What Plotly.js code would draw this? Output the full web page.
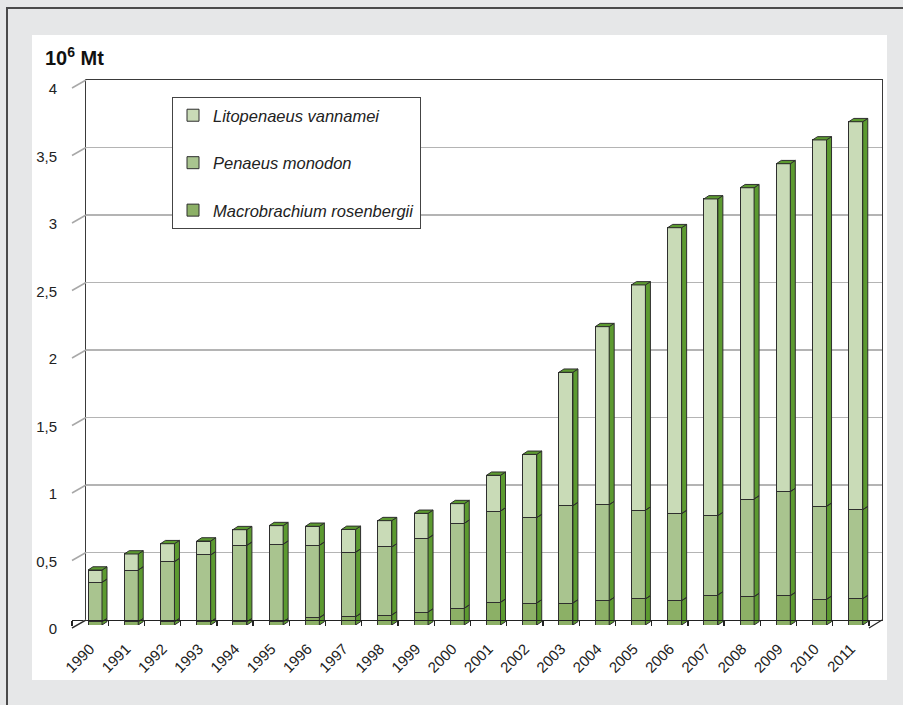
<!DOCTYPE html>
<html>
<head>
<meta charset="utf-8">
<script src="https://cdn.plot.ly/plotly-3.0.1.min.js"></script>
<style>
  html, body { margin:0; padding:0; width:903px; height:705px; overflow:hidden; background:#e6e7e8; }
  #lineTop { position:absolute; left:6px; top:7px; width:897px; height:1.5px; background:#4a4a4a; }
  #lineLeft { position:absolute; left:6px; top:7px; width:1.5px; height:698px; background:#4a4a4a; }
  #panel { position:absolute; left:32px; top:35px; width:855px; height:645px; background:#ffffff; }
  #chart { position:absolute; left:0; top:0; width:903px; height:705px; }
</style>
</head>
<body>
<div id="lineTop"></div>
<div id="lineLeft"></div>
<div id="panel"></div>
<div id="chart"></div>
<script>
// ---- data (10^6 Mt) ----
const years = ['1990','1991','1992','1993','1994','1995','1996','1997','1998','1999','2000',
               '2001','2002','2003','2004','2005','2006','2007','2008','2009','2010','2011'];
const macrobrachium = [0.024,0.024,0.024,0.024,0.024,0.024,0.054,0.061,0.074,0.096,0.124,
                       0.168,0.163,0.163,0.180,0.193,0.180,0.222,0.210,0.217,0.190,0.195];
const monodon = [0.292,0.383,0.445,0.495,0.566,0.574,0.536,0.478,0.504,0.546,0.629,
                 0.676,0.632,0.721,0.711,0.657,0.645,0.588,0.723,0.771,0.689,0.659];
const vannamei = [0.091,0.119,0.133,0.103,0.116,0.138,0.141,0.169,0.195,0.185,0.146,
                  0.265,0.469,0.988,1.319,1.669,2.118,2.346,2.306,2.429,2.714,2.874];
const seriesNames = ['Macrobrachium rosenbergii','Penaeus monodon','Litopenaeus vannamei'];
const yTickVals = [0,0.5,1,1.5,2,2.5,3,3.5,4];
const yTickText = ['0','0,5','1','1,5','2','2,5','3','3,5','4'];

// ---- geometry / style ----
const FONT = 'Liberation Sans, Arial, Helvetica, sans-serif';
const frontColors = ['#8cb066','#a9c48f','#c9dbb7'];
const depthColor = '#5c9a30';
const edge = '#2e2e2e';
const BAR_OFF = -0.058, BAR_W = 0.386;
const PX_X = 797/22, PX_Y = 135;
const DX = 5/PX_X, DY = 3.3/PX_Y;
const W = 810, H = 548;

const idx = years.map((_, i) => i);
const series = [macrobrachium, monodon, vannamei];

const traces = [];
series.forEach((vals, k) => {
  traces.push({
    type:'bar', x: idx, y: vals, name: seriesNames[k],
    xaxis:'x2', yaxis:'y3',
    offset: BAR_OFF, width: BAR_W,
    legendgroup: 'g'+k, legendrank: 3 - k,
    marker:{ color: frontColors[k], line:{ color: edge, width: 1 } },
    hoverinfo:'skip'
  });
});

// side faces (one per segment) and top faces, from cumulated values
const sx = [], sy = [], tx = [], ty = [];
idx.forEach(i => {
  let base = 0;
  const xl = i + BAR_OFF, xr = i + BAR_OFF + BAR_W;
  series.forEach(vals => {
    const top = base + vals[i];
    sx.push(xr, xr+DX, xr+DX, xr, xr, null);
    sy.push(base, base+DY, top+DY, top, base, null);
    base = top;
  });
  tx.push(xl, xl+DX, xr+DX, xr, xl, null);
  ty.push(base, base+DY, base+DY, base, base, null);
});
traces.push({ type:'scatter', mode:'lines', x: sx, y: sy, xaxis:'x2', yaxis:'y3',
  fill:'toself', fillcolor: depthColor, line:{ color: edge, width: 1 },
  showlegend:false, hoverinfo:'skip' });
traces.push({ type:'scatter', mode:'lines', x: tx, y: ty, xaxis:'x2', yaxis:'y3',
  fill:'toself', fillcolor: depthColor, line:{ color: edge, width: 1 },
  showlegend:false, hoverinfo:'skip' });
traces.push({ type:'scatter', mode:'none', x:[], y:[], xaxis:'x', yaxis:'y', showlegend:false, hoverinfo:'skip' });

// wall connectors and floor edges
const shapes = [];
yTickVals.forEach(v => {
  shapes.push({ type:'line', xref:'paper', yref:'paper',
    x0: 0, y0: (PX_Y*v)/H, x1: 14/W, y1: (8 + PX_Y*v)/H,
    line:{ color:'#a8a8a8', width:1.5 } });
});
shapes.push({ type:'line', xref:'paper', yref:'paper', x0:0, y0:0, x1:14/W, y1:8/H, line:{ color:'#222', width:1.3 } });
shapes.push({ type:'line', xref:'paper', yref:'paper', x0:797/W, y0:0, x1:1, y1:8/H, line:{ color:'#222', width:1.3 } });

const layout = {
  width:903, height:705,
  margin:{ l:72, r:21, t:80, b:77, pad:0 },
  paper_bgcolor:'rgba(0,0,0,0)', plot_bgcolor:'rgba(0,0,0,0)',
  font:{ family: FONT, size:15, color:'#222' },
  barmode:'stack',
  showlegend:true,
  legend:{
    x:(172-72)/W, y:(628-97)/H, xanchor:'left', yanchor:'top',
    bgcolor:'#ffffff', bordercolor:'#444', borderwidth:1,
    font:{ family: FONT, size:16.5, color:'#222', style:'italic' },
    traceorder:'grouped', tracegroupgap:23
  },
  // back wall
  xaxis:{ domain:[14/W, 1], anchor:'y', range:[0,1], showgrid:false, zeroline:false,
          showticklabels:false, ticks:'', showline:true, mirror:true, linecolor:'#3a3a3a', linewidth:1.3, fixedrange:true },
  yaxis:{ domain:[8/H, 1], anchor:'x', range:[0,4], tickvals:yTickVals, showgrid:true, gridcolor:'#b4b4b4', gridwidth:1.5,
          zeroline:false, showticklabels:false, ticks:'', showline:true, mirror:true, linecolor:'#3a3a3a', linewidth:1.3, fixedrange:true },
  // front floor / year labels
  xaxis2:{ domain:[0, 797/W], anchor:'y2', range:[-0.5, 21.5], tickvals: idx, ticktext: years,
           ticks:'outside', ticklen:13, tickcolor:'rgba(0,0,0,0)', tickangle:-45,
           showgrid:false, zeroline:false, showline:true, linecolor:'#222', linewidth:1.3,
           tickfont:{ family: FONT, size:15, color:'#222' }, automargin:false, fixedrange:true,
           minor:{ tickvals: idx.concat([idx.length]).map(i => i - 0.5), ticks:'outside', ticklen:5, tickcolor:'#222', tickwidth:1.3, showgrid:false } },
  // left wall line
  yaxis2:{ domain:[0, 540/H], anchor:'x2', range:[0,4], showticklabels:false,
           ticks:'', showgrid:false, zeroline:false, showline:true, linecolor:'#a8a8a8', linewidth:1.5,
           automargin:false, fixedrange:true },
  // bars plane, carries the value labels
  yaxis3:{ domain:[3/H, 543/H], anchor:'x2', range:[0,4], tickvals:yTickVals, ticktext:yTickText,
           ticks:'outside', ticklen:11, tickcolor:'rgba(0,0,0,0)', ticklabelshift:4,
           showgrid:false, zeroline:false, showline:false,
           tickfont:{ family: FONT, size:15, color:'#222' }, automargin:false, fixedrange:true },
  shapes: shapes,
  annotations:[{
    xref:'paper', yref:'paper', x:(43-72)/W, y:(628-56)/H, xanchor:'left', yanchor:'middle',
    text:'<b>10<sup>6</sup> Mt</b>', showarrow:false, font:{ family: FONT, size:20, color:'#111' }
  }]
};

Plotly.newPlot('chart', traces, layout, { staticPlot:true, displayModeBar:false });
</script>
</body>
</html>
